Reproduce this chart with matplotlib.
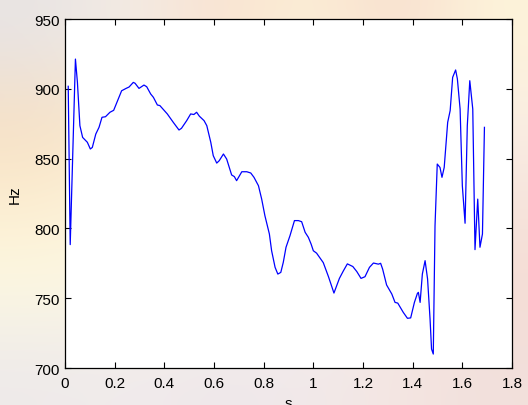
import numpy as np
import matplotlib
matplotlib.use("Agg")
import matplotlib.pyplot as plt
from matplotlib.ticker import FuncFormatter

# Pitch track data
time_s = [0.013, 0.021, 0.042, 0.050, 0.060, 0.071, 0.090, 0.102, 0.110, 0.124,
          0.137, 0.149, 0.163, 0.181, 0.196, 0.228, 0.246, 0.258, 0.275, 0.282,
          0.298, 0.318, 0.329, 0.345, 0.356, 0.372, 0.382, 0.412, 0.436, 0.459,
          0.469, 0.490, 0.506, 0.519, 0.530, 0.541, 0.560, 0.571, 0.587, 0.597,
          0.611, 0.621, 0.638, 0.651, 0.671, 0.682, 0.691, 0.712, 0.732, 0.748,
          0.761, 0.779, 0.792, 0.805, 0.823, 0.832, 0.846, 0.857, 0.869, 0.879,
          0.890, 0.906, 0.924, 0.940, 0.953, 0.967, 0.980, 0.991, 1.000, 1.013,
          1.040, 1.061, 1.083, 1.105, 1.121, 1.137, 1.159, 1.175, 1.192, 1.208,
          1.226, 1.242, 1.262, 1.271, 1.279, 1.295, 1.316, 1.329, 1.340, 1.362,
          1.379, 1.392, 1.407, 1.419, 1.423, 1.430, 1.439, 1.450, 1.460, 1.470,
          1.476, 1.483, 1.490, 1.499, 1.510, 1.518, 1.527, 1.541, 1.551, 1.561,
          1.573, 1.580, 1.591, 1.600, 1.611, 1.620, 1.630, 1.642, 1.651, 1.662,
          1.671, 1.681, 1.689]
pitch_hz = [901.8, 788.4, 921.3, 904.7, 873.6, 865.2, 861.7, 856.9, 858.0, 867.6,
            872.4, 879.6, 880.0, 883.2, 884.6, 898.6, 900.3, 901.3, 904.6, 904.0,
            900.3, 902.7, 901.5, 896.3, 893.9, 888.4, 888.0, 882.0, 876.0, 870.5,
            871.7, 877.2, 882.0, 881.6, 883.2, 880.4, 877.2, 873.6, 861.7, 852.1,
            846.8, 848.5, 853.3, 849.7, 838.3, 837.1, 834.2, 840.6, 840.6, 839.7,
            836.6, 830.6, 821.0, 809.1, 796.0, 784.0, 772.1, 767.3, 768.5, 775.7,
            786.5, 794.8, 805.6, 805.6, 804.8, 797.2, 793.6, 788.8, 784.0, 782.3,
            775.5, 765.4, 753.7, 764.2, 769.6, 774.6, 772.7, 769.1, 764.2, 765.4,
            772.1, 775.2, 774.4, 775.0, 770.9, 759.5, 753.0, 747.0, 746.5, 739.9,
            735.6, 735.9, 747.0, 753.4, 754.2, 747.0, 767.3, 776.9, 763.8, 735.1,
            713.6, 710.0, 801.9, 846.1, 843.7, 836.6, 843.7, 876.0, 884.4, 908.2,
            913.5, 907.1, 885.5, 830.6, 803.7, 873.6, 905.8, 885.5, 784.8, 821.0,
            786.5, 796.0, 872.4]

x_ticks = [0, 0.2, 0.4, 0.6, 0.8, 1.0, 1.2, 1.4, 1.6, 1.8]
y_ticks = [700, 750, 800, 850, 900, 950]

plt.rcParams['font.family'] = ['Liberation Sans', 'DejaVu Sans']

fig = plt.figure(figsize=(5.28, 4.06), dpi=100)

# washed-out blurry background
bg_colors = [
    ["#e8e4e4", "#f4ede6", "#f9e0cf", "#fcf1d6", "#f8dccd", "#fdf4da"],
    ["#f6dfc4", "#faead2", "#fcf3e0", "#fdf7ea", "#fcf5e8", "#faeee4"],
    ["#fcedd0", "#fdf4dc", "#fdf9ee", "#fdf9f0", "#f9f0ea", "#f6e4dc"],
    ["#fdf9e2", "#fcf8e6", "#fcf8f0", "#fbf6f2", "#f7e9e4", "#f5dcd4"],
    ["#eeeaea", "#f1ebec", "#eee7ea", "#f1e9ea", "#f4e6e2", "#f2e0dc"],
]
bg = np.array([[matplotlib.colors.to_rgb(c) for c in row] for row in bg_colors])
bax = fig.add_axes([0, 0, 1, 1], zorder=-10)
bax.imshow(bg, aspect='auto', interpolation='bicubic', extent=[0, 1, 0, 1])
bax.set_axis_off()

ax = fig.add_axes([0.1231, 0.0911, 0.8466, 0.8596])
ax.set_facecolor('white')
ax.plot(time_s, pitch_hz, color='#0000ff', linewidth=0.9)
ax.set_xlim(0, 1.8)
ax.set_ylim(700, 950)
ax.set_xticks(x_ticks)
ax.set_yticks(y_ticks)
ax.xaxis.set_major_formatter(FuncFormatter(lambda v, p: f"{v:g}"))
ax.tick_params(direction='in', top=True, right=True, length=4, width=0.8,
               labelsize=11, colors='black')
ax.tick_params(axis='x', pad=6)
ax.tick_params(axis='y', pad=4)
for sp in ax.spines.values():
    sp.set_linewidth(0.9)
ax.set_xlabel('s', fontsize=11, labelpad=4)
ax.set_ylabel('Hz', fontsize=11, labelpad=9)

fig.savefig('out.png', dpi=100)
